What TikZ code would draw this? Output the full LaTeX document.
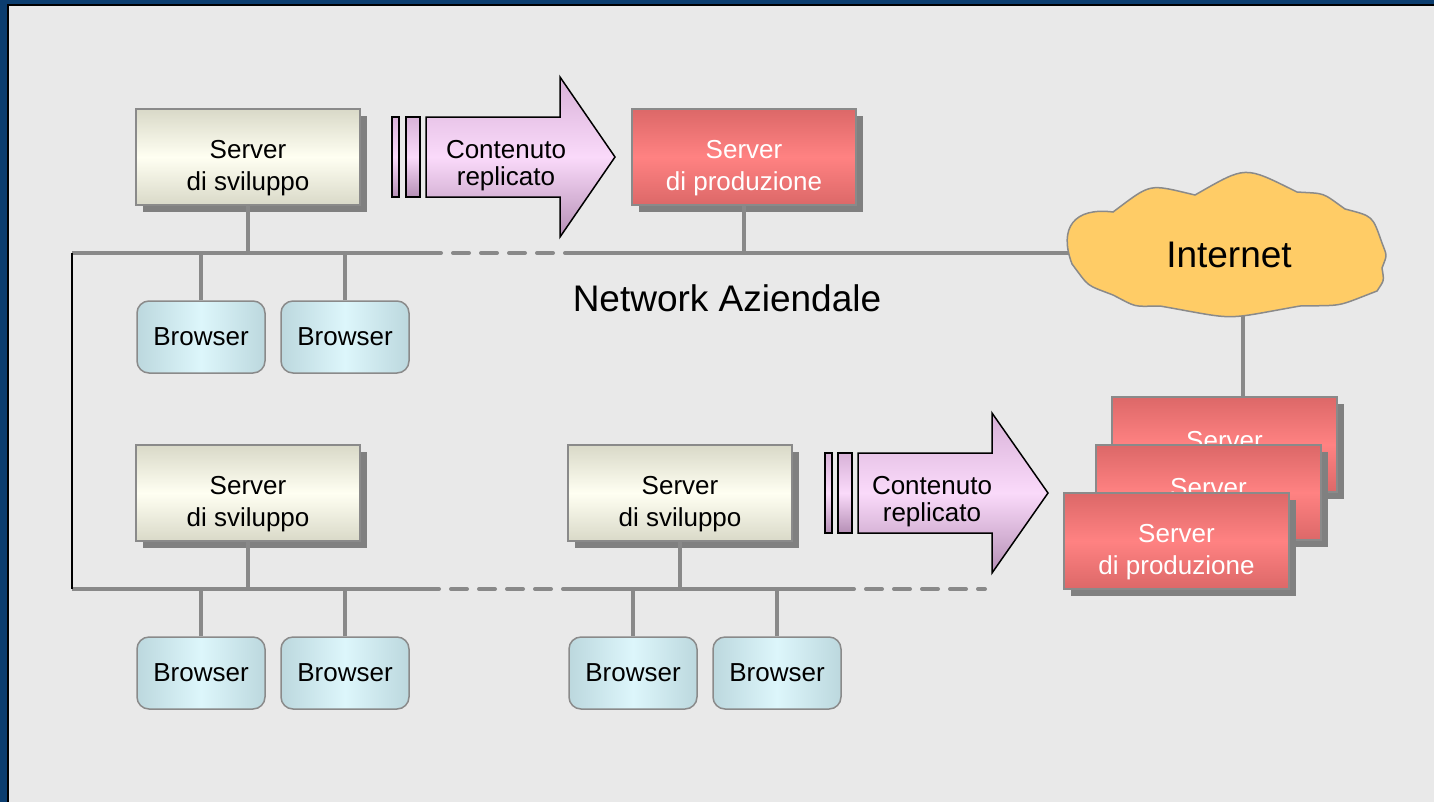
\documentclass[tikz,border=0pt]{standalone}
\usepackage{fontspec}
\setmainfont{Liberation Sans}
\usetikzlibrary{shadows,calc}
\definecolor{frameblue}{HTML}{0B3D6F}
\definecolor{bggray}{HTML}{E9E9E9}
\definecolor{boxline}{HTML}{8A8A8A}
\definecolor{netgray}{HTML}{898989}
\definecolor{shgray}{HTML}{808080}
\definecolor{devedge}{HTML}{D9D9C8}
\definecolor{devmid}{HTML}{FFFFF2}
\definecolor{prodedge}{HTML}{DC6868}
\definecolor{prodmid}{HTML}{FF8282}
\definecolor{brwedge}{HTML}{BCD8DE}
\definecolor{brwmid}{HTML}{DDF6FB}
\definecolor{arrtop}{HTML}{D8B2D8}
\definecolor{arrmid}{HTML}{FADAFA}
\definecolor{arrbot}{HTML}{B58FB5}
\definecolor{cloudfill}{HTML}{FFCC66}
\begin{document}
\begin{tikzpicture}[x=1pt,y=-1pt,
  txt/.style={font=\fontsize{26}{32}\selectfont, align=center, inner sep=0pt},
  arrtxt/.style={font=\fontsize{26}{27}\selectfont, align=center, inner sep=0pt},
  bigtxt/.style={font=\fontsize{37}{44}\selectfont, inner sep=0pt},
  shadowed/.style={drop shadow={shadow xshift=7pt, shadow yshift=-7pt, fill=shgray, opacity=1}},
  devbox/.style={draw=boxline, line width=1.5pt, minimum width=224pt, minimum height=96pt, inner sep=0pt,
    top color=devedge, bottom color=devedge, middle color=devmid, shadowed},
  prodbox/.style={draw=boxline, line width=1.5pt, minimum width=224pt, minimum height=96pt, inner sep=0pt,
    top color=prodedge, bottom color=prodedge, middle color=prodmid, shadowed},
  brwbox/.style={draw=boxline, line width=1.5pt, rounded corners=12pt, minimum width=128pt, minimum height=72pt, inner sep=0pt,
    left color=brwedge, right color=brwedge, middle color=brwmid, font=\fontsize{26}{31}\selectfont},
  arrshape/.style={draw=black, line width=1.5pt, top color=arrtop, bottom color=arrbot, middle color=arrmid},
  net/.style={draw=netgray, line width=4pt},
  netdash/.style={draw=netgray, line width=4pt, line cap=round, dash pattern=on 16pt off 12pt},
  cloudline/.style={draw=boxline, line width=1.5pt, fill=cloudfill, looseness=1.5}
]
\path[use as bounding box] (0,0) rectangle (1434,801);
\fill[frameblue] (-5,-5) rectangle (1440,810);
\fill[bggray] (8,5) rectangle (1440,810);
\draw[black, line width=2pt] (8,810) -- (8,5) -- (1440,5);

% bus coordinates
\coordinate (tL) at (72,253);
\coordinate (tA) at (425,253);
\coordinate (tB) at (566,253);
\coordinate (tR) at (1085,253);
\coordinate (bL) at (72,589);
\coordinate (bA) at (423,589);
\coordinate (bB) at (566,589);
\coordinate (bC) at (838,589);
\coordinate (bD) at (985,589);

% network lines
\draw[net] (tL) -- (tA);
\draw[netdash] (tA) -- (tB);
\draw[net] (tB) -- (tR);
\draw[net] (bL) -- (bA);
\draw[netdash] (bA) -- (bB);
\draw[net] (bB) -- (bC);
\draw[netdash] (bC) -- (bD);
\draw[black, line width=2pt] (tL) -- (bL);

% cloud
\coordinate (inetdown) at (1243,305);
\coordinate (stackup) at (1243,397);
\draw[net] (inetdown) -- (stackup);
\path[cloudline] (1072,264)
  to[bend left=59] (1113,212)
  to[bend left=25] (1195,195)
  to[bend left=28] (1297,192)
  to[bend left=16] (1345,209)
  to[bend left=28] (1382,243)
  to[bend left=21] (1382,268)
  to[bend left=21] (1377,291)
  to[bend left=10] (1300,306)
  to[bend left=10] (1160,306)
  to[bend left=14] (1113,295)
  to[bend left=16] cycle;
\node[bigtxt] (inet) at (1229,255) {Internet};

% top row
\node[devbox] (dev1) at (248,157) {};
\node[txt] (dev1t) at (248,168) {Server\\di sviluppo};
\node[prodbox] (prod1) at (744,157) {};
\node[txt, white] (prod1t) at (744,168) {Server\\di produzione};
\draw[net] (dev1.south) -- (dev1.south |- tL);
\draw[net] (prod1.south) -- (prod1.south |- tL);

% top arrow
\fill[arrshape] (392,117) rectangle (399,197);
\fill[arrshape] (406,117) rectangle (420,197);
\path[arrshape] (426,117) -- (560,117) -- (560,77) -- (615,157) -- (560,237) -- (560,197) -- (426,197) -- cycle;
\node[arrtxt] (arr1t) at (506,166) {Contenuto\\replicato};

% top browsers
\node[brwbox] (b1) at (201,337) {Browser};
\node[brwbox] (b2) at (345,337) {Browser};
\draw[net] (b1.north) -- (b1.north |- tL);
\draw[net] (b2.north) -- (b2.north |- tL);

\node[bigtxt] (nettxt) at (727,298) {Network Aziendale};

% bottom row
\node[devbox] (dev2) at (248,493) {};
\node[txt] (dev2t) at (248,504) {Server\\di sviluppo};
\node[devbox] (dev3) at (680,493) {};
\node[txt] (dev3t) at (680,504) {Server\\di sviluppo};
\draw[net] (dev2.south) -- (dev2.south |- bL);
\draw[net] (dev3.south) -- (dev3.south |- bL);

% bottom arrow
\fill[arrshape] (825,453) rectangle (832,533);
\fill[arrshape] (838,453) rectangle (852,533);
\path[arrshape] (858,453) -- (992,453) -- (992,413) -- (1048,493) -- (992,573) -- (992,533) -- (858,533) -- cycle;
\node[arrtxt] (arr2t) at (932,502) {Contenuto\\replicato};

% bottom browsers
\node[brwbox] (b3) at (201,673) {Browser};
\node[brwbox] (b4) at (345,673) {Browser};
\node[brwbox] (b5) at (633,673) {Browser};
\node[brwbox] (b6) at (777,673) {Browser};
\foreach \b in {b3,b4,b5,b6} { \draw[net] (\b.north) -- (\b.north |- bL); }

% production stack
\node[prodbox, minimum width=225pt, minimum height=95pt] (ps1) at (1224.5,444.5) {};
\node[txt, white] (ps1t) at (1224.5,441) {Server};
\node[prodbox, minimum width=225pt, minimum height=95pt] (ps2) at (1208.5,492.5) {};
\node[txt, white] (ps2t) at (1208.5,488) {Server};
\node[prodbox, minimum width=225pt, minimum height=96pt] (ps3) at (1176.5,541) {};
\node[txt, white] (ps3t) at (1176.5,552) {Server\\di produzione};
\end{tikzpicture}
\end{document}
